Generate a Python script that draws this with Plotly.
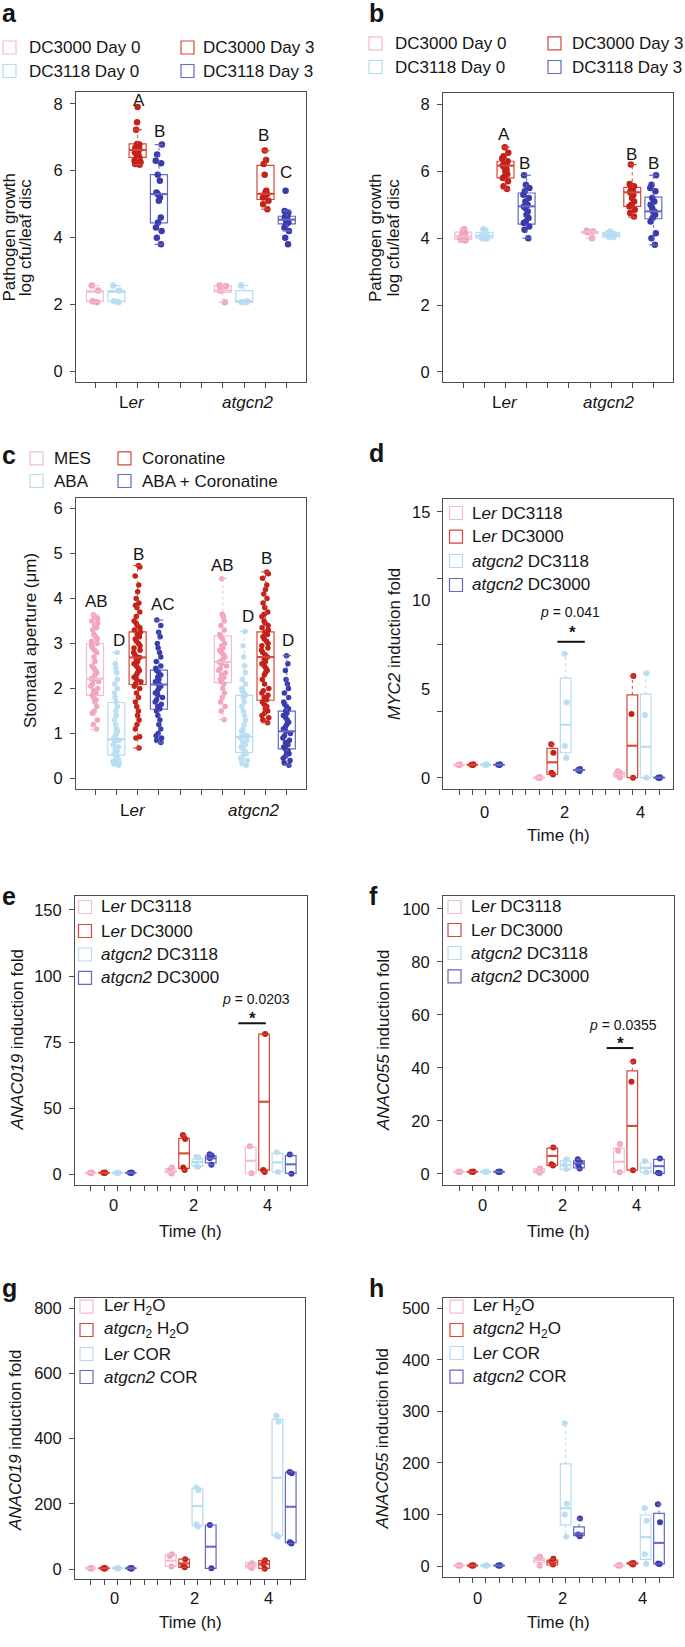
import numpy as np
import plotly.graph_objects as go

W, H = 685, 1647
FONT = "Liberation Sans, Arial, Helvetica, sans-serif"
TXT = "#151515"
AXC = "#4d4d4d"

PT = {"pink": "#F2A5BD", "lblue": "#BBDFF3", "red": "#C42219", "blue": "#3A3CAE"}
LN = {"pink": "#F4BCCD", "lblue": "#B5DBF1", "red": "#D5473C", "blue": "#6668C4"}

# ---------------- categories / labels ----------------
ab_pos = [1, 2, 3, 4, 7, 8, 9, 10]
ab_colors = ["pink", "lblue", "red", "blue", "pink", "lblue", "red", "blue"]
ab_groups = ["L<i>er</i>", "<i>atgcn2</i>"]
time_pos = [1, 2, 3, 4, 7, 8, 9, 10, 13, 14, 15, 16]
time_colors = ["pink", "red", "lblue", "blue"] * 3
time_labels = ["0", "2", "4"]

legend_ab = ["DC3000 Day 0", "DC3000 Day 3", "DC3118 Day 0", "DC3118 Day 3"]
legend_ab_colors = ["pink", "red", "lblue", "blue"]
legend_c = ["MES", "Coronatine", "ABA", "ABA + Coronatine"]
legend_def = ["L<i>er</i> DC3118", "L<i>er</i> DC3000", "<i>atgcn2</i> DC3118", "<i>atgcn2</i> DC3000"]
legend_g = ["L<i>er</i> H<sub>2</sub>O", "<i>atgcn</i><sub>2</sub> H<sub>2</sub>O", "L<i>er</i> COR", "<i>atgcn2</i> COR"]
legend_h = ["L<i>er</i> H<sub>2</sub>O", "<i>atgcn2</i> H<sub>2</sub>O", "L<i>er</i> COR", "<i>atgcn2</i> COR"]
legend_time_colors = ["pink", "red", "lblue", "blue"]

# ---------------- panel a : pathogen growth ----------------
a_points = [
    [2.57, 2.42, 2.1, 2.07],
    [2.57, 2.42, 2.1, 2.07],
    [7.9, 7.45, 7.22, 6.8, 6.78, 6.72, 6.68, 6.65, 6.62, 6.6, 6.55, 6.5, 6.45, 6.4, 6.38, 6.35, 6.3, 6.25, 6.2, 6.18],
    [6.78, 6.48, 6.3, 6.22, 5.88, 5.7, 5.35, 5.3, 5.2, 5.1, 4.6, 4.45, 4.3, 4.2, 4.0, 3.8],
    [2.57, 2.55, 2.42, 2.07],
    [2.57, 2.1, 2.07, 2.07],
    [6.6, 6.32, 6.2, 5.88, 5.4, 5.35, 5.3, 5.25, 5.2, 5.1, 5.0, 4.85],
    [5.4, 4.8, 4.75, 4.7, 4.65, 4.6, 4.55, 4.5, 4.5, 4.45, 4.4, 4.3, 4.2, 4.0, 3.8],
]
# [lower whisker, q1, median, q3, upper whisker]
a_stats = [
    [2.07, 2.1, 2.4, 2.4, 2.57],
    [2.07, 2.1, 2.4, 2.4, 2.57],
    [6.18, 6.4, 6.62, 6.8, 7.22],
    [3.8, 4.44, 5.3, 5.88, 6.78],
    [2.07, 2.37, 2.42, 2.57, 2.57],
    [2.07, 2.07, 2.1, 2.42, 2.57],
    [4.85, 5.14, 5.31, 6.16, 6.6],
    [4.2, 4.41, 4.54, 4.64, 4.8],
]
a_letters = ["A", "B", "B", "C"]

# ---------------- panel b ----------------
b_points = [
    [4.27, 4.22, 4.15, 4.08, 4.03, 3.98, 3.95, 3.93],
    [4.27, 4.22, 4.17, 4.12, 4.08, 4.05, 4.02, 4.0, 3.98],
    [6.72, 6.55, 6.45, 6.38, 6.3, 6.25, 6.2, 6.17, 6.12, 6.05, 6.0, 5.92, 5.85, 5.8, 5.7, 5.55, 5.47],
    [5.88, 5.6, 5.5, 5.4, 5.3, 5.2, 5.1, 5.0, 4.95, 4.9, 4.8, 4.7, 4.6, 4.5, 4.45, 4.35, 4.25, 4.0],
    [4.22, 4.2, 4.18, 4.0],
    [4.2, 4.15, 4.1, 4.05, 4.03],
    [6.2, 5.62, 5.55, 5.5, 5.4, 5.38, 5.35, 5.3, 5.2, 5.1, 5.0, 4.95, 4.85, 4.75, 4.65],
    [5.88, 5.6, 5.5, 5.4, 5.2, 5.1, 5.0, 4.9, 4.8, 4.78, 4.7, 4.6, 4.5, 4.15, 4.0, 3.8],
]
b_stats = [
    [3.93, 3.97, 4.05, 4.18, 4.27],
    [3.98, 4.0, 4.07, 4.17, 4.27],
    [5.47, 5.8, 6.17, 6.3, 6.72],
    [4.0, 4.42, 4.95, 5.35, 5.88],
    [4.0, 4.15, 4.18, 4.2, 4.22],
    [4.03, 4.04, 4.1, 4.17, 4.2],
    [4.63, 4.95, 5.37, 5.52, 6.2],
    [3.8, 4.58, 4.8, 5.23, 5.88],
]
b_letters = ["A", "B", "B", "B"]

# ---------------- panel c : stomatal aperture ----------------
c_points = [
    [3.64, 3.6, 3.55, 3.5, 3.45, 3.4, 3.35, 3.3, 3.2, 3.15, 3.1, 3.05, 3.0, 2.95, 2.9, 2.85, 2.8, 2.7, 2.6, 2.5,
     2.45, 2.4, 2.35, 2.3, 2.25, 2.22, 2.2, 2.15, 2.1, 2.05, 2.0, 1.95, 1.9, 1.85, 1.8, 1.75, 1.7, 1.6, 1.5, 1.45,
     1.3, 1.2, 1.1],
    [2.8, 2.55, 2.45, 2.35, 2.2, 2.1, 2.0, 1.9, 1.8, 1.7, 1.6, 1.5, 1.4, 1.3, 1.2, 1.1, 1.05, 1.0, 0.95, 0.9,
     0.87, 0.85, 0.8, 0.75, 0.7, 0.65, 0.6, 0.55, 0.52, 0.5, 0.45, 0.42, 0.4, 0.38, 0.35, 0.33, 0.3],
    [4.73, 4.7, 4.5, 4.3, 4.15, 4.0, 3.9, 3.85, 3.8, 3.7, 3.6, 3.5, 3.45, 3.4, 3.35, 3.3, 3.25, 3.2, 3.15, 3.1,
     3.05, 3.0, 2.95, 2.9, 2.85, 2.8, 2.75, 2.7, 2.69, 2.65, 2.6, 2.55, 2.5, 2.45, 2.4, 2.35, 2.3, 2.25, 2.2, 2.15,
     2.1, 2.05, 2.0, 1.9, 1.8, 1.7, 1.6, 1.5, 1.4, 1.3, 1.2, 1.1, 0.93, 0.9, 0.68],
    [3.52, 3.4, 3.25, 3.15, 3.0, 2.9, 2.8, 2.7, 2.6, 2.5, 2.45, 2.4, 2.35, 2.3, 2.25, 2.2, 2.15, 2.1, 2.09, 2.05,
     2.0, 1.95, 1.9, 1.85, 1.8, 1.75, 1.7, 1.65, 1.6, 1.55, 1.5, 1.4, 1.3, 1.2, 1.1, 1.0, 0.95, 0.9, 0.85, 0.8],
    [4.44, 3.65, 3.6, 3.5, 3.4, 3.3, 3.2, 3.15, 3.1, 3.0, 2.95, 2.9, 2.85, 2.8, 2.75, 2.7, 2.65, 2.6, 2.59, 2.55,
     2.5, 2.45, 2.4, 2.35, 2.3, 2.25, 2.2, 2.15, 2.1, 2.0, 1.9, 1.8, 1.7, 1.6, 1.5, 1.31],
    [3.27, 2.95, 2.7, 2.5, 2.35, 2.2, 2.1, 2.0, 1.95, 1.9, 1.85, 1.8, 1.7, 1.6, 1.5, 1.4, 1.3, 1.2, 1.1, 1.05,
     1.0, 0.95, 0.93, 0.9, 0.85, 0.8, 0.75, 0.7, 0.65, 0.6, 0.58, 0.55, 0.5, 0.45, 0.4, 0.35, 0.3],
    [4.59, 4.55, 4.45, 4.3, 4.2, 4.1, 4.0, 3.9, 3.8, 3.7, 3.65, 3.6, 3.5, 3.45, 3.4, 3.35, 3.3, 3.25, 3.2, 3.15,
     3.1, 3.05, 3.0, 2.95, 2.9, 2.85, 2.8, 2.75, 2.7, 2.65, 2.6, 2.55, 2.5, 2.45, 2.4, 2.35, 2.3, 2.2, 2.1, 2.0,
     1.95, 1.9, 1.85, 1.8, 1.75, 1.7, 1.65, 1.6, 1.55, 1.5, 1.45, 1.4, 1.35, 1.3, 1.24],
    [2.73, 2.55, 2.4, 2.2, 2.1, 2.0, 1.9, 1.8, 1.7, 1.65, 1.6, 1.55, 1.5, 1.45, 1.4, 1.35, 1.3, 1.25, 1.2, 1.15,
     1.1, 1.05, 1.0, 0.95, 0.9, 0.85, 0.8, 0.75, 0.7, 0.66, 0.62, 0.58, 0.55, 0.5, 0.45, 0.4, 0.35, 0.3],
]
c_stats = [
    [1.09, 1.85, 2.22, 3.0, 3.64],
    [0.3, 0.52, 0.87, 1.69, 2.8],
    [0.68, 2.09, 2.69, 3.26, 4.73],
    [0.8, 1.54, 2.09, 2.41, 3.52],
    [1.31, 2.13, 2.59, 3.17, 4.44],
    [0.3, 0.58, 0.93, 1.85, 3.27],
    [1.24, 1.74, 2.7, 3.26, 4.59],
    [0.3, 0.66, 1.05, 1.5, 2.73],
]
c_letters = ["AB", "D", "B", "AC", "AB", "D", "B", "D"]

# ---------------- panel d : MYC2 ----------------
d_points = [
    [0.73, 0.75, 0.77], [0.73, 0.75, 0.77], [0.73, 0.75, 0.77], [0.73, 0.75, 0.77],
    [0.05, 0.02, 0.0], [1.9, 1.42, 0.3, 0.2], [7.0, 4.25, 1.8, 1.13], [0.5, 0.45, 0.4],
    [0.38, 0.3, 0.17, 0.03], [5.75, 3.6, 0.02], [5.9, 3.55, 0.02], [0.04, 0.02, 0.0],
]
d_stats = [
    [0.73, 0.74, 0.75, 0.76, 0.77], [0.73, 0.74, 0.75, 0.76, 0.77],
    [0.73, 0.74, 0.75, 0.76, 0.77], [0.73, 0.74, 0.75, 0.76, 0.77],
    [0.0, 0.01, 0.02, 0.04, 0.05], [0.2, 0.21, 0.88, 1.67, 1.9],
    [1.13, 1.42, 3.0, 5.62, 7.0], [0.4, 0.43, 0.45, 0.47, 0.5],
    [0.03, 0.05, 0.2, 0.3, 0.38], [0.02, 0.02, 1.82, 4.68, 5.75],
    [0.02, 0.02, 1.76, 4.72, 5.9], [0.0, 0.01, 0.02, 0.03, 0.04],
]
d_ytick_labels = [0, 5, 10, 15]

# ---------------- panel e : ANAC019 (DC3000) ----------------
e_points = [
    [1.2, 1.0, 0.8], [1.2, 1.0, 0.8], [1.2, 1.0, 0.8], [1.2, 1.0, 0.8],
    [5.0, 3.0, 0.5], [29.5, 26.5, 5.0, 3.0], [13.0, 12.5, 6.0, 5.5], [15.0, 14.0, 12.0, 7.0],
    [21.0, 0.6], [78.0, 3.0, 1.5], [16.5, 1.5], [14.8, 0.2],
]
e_stats = [
    [0.8, 0.9, 1.0, 1.1, 1.2], [0.8, 0.9, 1.0, 1.1, 1.2],
    [0.8, 0.9, 1.0, 1.1, 1.2], [0.8, 0.9, 1.0, 1.1, 1.2],
    [0.5, 1.0, 2.0, 4.0, 5.0], [3.0, 4.3, 15.6, 27.0, 29.5],
    [5.5, 6.0, 9.1, 11.4, 13.0], [7.0, 8.5, 11.8, 13.8, 15.0],
    [0.6, 0.6, 10.1, 20.2, 21.0], [1.5, 3.0, 52.4, 78.0, 78.0],
    [1.5, 1.5, 8.8, 15.7, 16.5], [0.2, 0.5, 7.3, 14.0, 14.8],
]
# the printed axis labels of panel e are evenly spaced although their values are not
e_label_values = [0, 50, 75, 100, 150]
e_axis_values = [0, 50, 100, 150, 200]

# ---------------- panel f : ANAC055 (DC3000) ----------------
f_points = [
    [0.85, 0.8, 0.75], [0.85, 0.8, 0.75], [0.85, 0.8, 0.75], [0.85, 0.8, 0.75],
    [2.0, 1.2, 0.4], [10.0, 3.6, 3.2], [5.5, 3.5, 1.7], [5.5, 4.3, 3.5, 2.0],
    [11.3, 8.7, 0.6], [42.4, 34.8, 1.4], [4.9, 0.6], [5.8, 0.4, 0.2],
]
f_stats = [
    [0.75, 0.78, 0.8, 0.82, 0.85], [0.75, 0.78, 0.8, 0.82, 0.85],
    [0.75, 0.78, 0.8, 0.82, 0.85], [0.75, 0.78, 0.8, 0.82, 0.85],
    [0.4, 0.5, 1.15, 1.9, 2.0], [3.2, 3.2, 6.8, 9.7, 10.0],
    [1.7, 1.7, 3.3, 4.9, 5.5], [2.0, 2.3, 4.0, 4.9, 5.5],
    [0.6, 0.6, 4.6, 9.7, 11.3], [1.4, 1.4, 18.1, 38.9, 42.4],
    [0.6, 0.6, 2.3, 4.2, 4.9], [0.2, 0.2, 2.9, 5.5, 5.8],
]

# ---------------- panel g : ANAC019 (COR) ----------------
g_points = [
    [3.0, 2.0, 1.0], [3.0, 2.0, 1.0], [3.0, 2.0, 1.0], [3.0, 2.0, 1.0],
    [45.0, 40.0, 8.0], [30.0, 10.0, 5.0], [250.0, 242.0, 137.0, 130.0], [135.0, 2.0],
    [18.0, 10.0, 3.0], [27.0, 15.0, 1.0], [470.0, 452.0, 104.0, 99.0], [298.0, 294.0, 82.0, 78.0],
]
g_stats = [
    [1.0, 1.5, 2.0, 2.5, 3.0], [1.0, 1.5, 2.0, 2.5, 3.0],
    [1.0, 1.5, 2.0, 2.5, 3.0], [1.0, 1.5, 2.0, 2.5, 3.0],
    [8.0, 8.0, 25.6, 44.0, 45.0], [5.0, 5.0, 17.0, 30.0, 30.0],
    [130.0, 133.0, 193.0, 247.6, 250.0], [2.0, 2.0, 68.5, 135.0, 135.0],
    [3.0, 3.0, 10.0, 19.4, 19.4], [1.0, 2.0, 15.0, 25.6, 27.0],
    [99.0, 102.0, 280.0, 459.0, 470.0], [78.0, 81.0, 191.0, 297.0, 298.0],
]

# ---------------- panel h : ANAC055 (COR) ----------------
h_points = [
    [1.5, 1.0, 0.5], [1.5, 1.0, 0.5], [1.5, 1.0, 0.5], [1.5, 1.0, 0.5],
    [18.0, 15.0, 0.6], [14.0, 9.0, 3.0], [277.0, 121.0, 100.0, 57.0], [92.0, 61.0, 58.0],
    [2.0, 1.0, 0.5], [6.0, 5.0, 3.0], [112.0, 88.0, 23.0, 4.0], [120.0, 85.0, 5.0, 4.0],
]
h_stats = [
    [0.5, 0.8, 1.0, 1.2, 1.5], [0.5, 0.8, 1.0, 1.2, 1.5],
    [0.5, 0.8, 1.0, 1.2, 1.5], [0.5, 0.8, 1.0, 1.2, 1.5],
    [0.6, 7.0, 11.6, 16.0, 18.0], [2.0, 2.0, 7.0, 11.6, 14.0],
    [57.0, 80.0, 112.0, 198.0, 277.0], [58.0, 59.0, 63.0, 76.0, 92.0],
    [0.5, 0.7, 1.0, 1.5, 2.0], [3.0, 4.0, 5.0, 5.5, 6.0],
    [4.0, 13.0, 56.0, 99.0, 112.0], [4.0, 4.0, 45.0, 102.0, 120.0],
]


# ================= layout helpers =================
def fx(px):
    return px / W


def fy(py):
    return 1 - py / H


def e_scale(v):
    return np.interp(v, e_label_values, e_axis_values)


def ident(v):
    return np.asarray(v, dtype=float)


panels = [
    dict(pos=ab_pos, cols=ab_colors, pts=a_points, st=a_stats, dom=(76, 306, 92, 382),
         xr=[0.108, 10.9], yr=[-0.31, 8.35], nt=10, ytv=[0, 2, 4, 6, 8], ytt=None,
         bw=0.8, jit=0.45, ms=6.5, f=ident),
    dict(pos=ab_pos, cols=ab_colors, pts=b_points, st=b_stats, dom=(443, 673, 93, 382),
         xr=[0.04, 10.93], yr=[-0.30, 8.34], nt=10, ytv=[0, 2, 4, 6, 8], ytt=None,
         bw=0.8, jit=0.45, ms=6.5, f=ident),
    dict(pos=ab_pos, cols=ab_colors, pts=c_points, st=c_stats, dom=(76, 306, 498, 789),
         xr=[0.108, 10.9], yr=[-0.23, 6.23], nt=10, ytv=[0, 1, 2, 3, 4, 5, 6], ytt=None,
         bw=0.8, jit=0.5, ms=5.5, f=ident),
    dict(pos=time_pos, cols=time_colors, pts=d_points, st=d_stats, dom=(443, 673, 499, 789),
         xr=[-0.2, 17.05], yr=[-0.62, 15.71], nt=16, ytv=[0, 3.75, 7.5, 11.25, 15],
         ytt="none", bw=0.8, jit=0.25, ms=6, f=ident),
    dict(pos=time_pos, cols=time_colors, pts=e_points, st=e_stats, dom=(75, 307, 896, 1185),
         xr=[-0.18, 17.22], yr=[-8.3, 210.6], nt=16, ytv=e_axis_values,
         ytt=[str(v) for v in e_label_values], bw=0.8, jit=0.25, ms=6, f=e_scale),
    dict(pos=time_pos, cols=time_colors, pts=f_points, st=f_stats, dom=(443, 674, 896, 1185),
         xr=[-0.2, 17.13], yr=[-4.2, 104.9], nt=16, ytv=[0, 20, 40, 60, 80, 100], ytt=None,
         bw=0.8, jit=0.25, ms=6, f=ident),
    dict(pos=time_pos, cols=time_colors, pts=g_points, st=g_stats, dom=(75, 305, 1298, 1579),
         xr=[-0.18, 17.07], yr=[-30.7, 831.6], nt=16, ytv=[0, 200, 400, 600, 800], ytt=None,
         bw=0.8, jit=0.25, ms=6, f=ident),
    dict(pos=time_pos, cols=time_colors, pts=h_points, st=h_stats, dom=(443, 673, 1298, 1577),
         xr=[-0.2, 17.05], yr=[-21.3, 520], nt=16, ytv=[0, 100, 200, 300, 400, 500], ytt=None,
         bw=0.8, jit=0.25, ms=6, f=ident),
]

fig = go.Figure()
layout_axes = {}

for i, p in enumerate(panels, start=1):
    xn = "x" if i == 1 else f"x{i}"
    yn = "y" if i == 1 else f"y{i}"
    x0, x1, y0, y1 = p["dom"]
    tf = dict(size=16.5, color=TXT, family=FONT)
    layout_axes["xaxis" if i == 1 else f"xaxis{i}"] = dict(
        domain=[fx(x0), fx(x1)], range=p["xr"], tickmode="array",
        tickvals=list(range(1, p["nt"] + 1)), showticklabels=False,
        ticks="outside", ticklen=5, tickwidth=1, tickcolor=AXC,
        showline=True, linecolor=AXC, linewidth=1, mirror=True, showgrid=False,
        zeroline=False, anchor=yn, fixedrange=True)
    ya = dict(domain=[fy(y1), fy(y0)], range=p["yr"], tickmode="array", tickvals=p["ytv"],
              ticks="outside", ticklen=5, tickwidth=1, tickcolor=AXC, showline=True,
              linecolor=AXC, linewidth=1, mirror=True, showgrid=False, zeroline=False,
              anchor=xn, tickfont=tf, fixedrange=True, ticklabelstandoff=4)
    if p["ytt"] == "none":
        ya["showticklabels"] = False
    elif p["ytt"] is not None:
        ya["ticktext"] = p["ytt"]
    layout_axes["yaxis" if i == 1 else f"yaxis{i}"] = ya

    f = p["f"]
    bw = p["bw"]
    for color in ["pink", "lblue", "red", "blue"]:
        wx, wy, cx, cy = [], [], [], []
        for pos, col, st in zip(p["pos"], p["cols"], p["st"]):
            if col != color:
                continue
            lw, q1, med, q3, uw = f(st)
            wx += [pos, pos, None, pos, pos, None]
            wy += [q3, uw, None, q1, lw, None]
            c = bw / 4
            cx += [pos - c, pos + c, None, pos - c, pos + c, None]
            cy += [uw, uw, None, lw, lw, None]
        if wx:
            fig.add_trace(go.Scatter(x=wx, y=wy, mode="lines", xaxis=xn, yaxis=yn,
                                     line=dict(color=LN[color], width=1, dash="dot"),
                                     hoverinfo="skip", showlegend=False))
            fig.add_trace(go.Scatter(x=cx, y=cy, mode="lines", xaxis=xn, yaxis=yn,
                                     line=dict(color=LN[color], width=1.2),
                                     hoverinfo="skip", showlegend=False))
    for pos, col, st in zip(p["pos"], p["cols"], p["st"]):
        lw, q1, med, q3, uw = f(st)
        fig.add_trace(go.Box(x=[pos], q1=[q1], median=[med], q3=[q3], lowerfence=[q1],
                             upperfence=[q3], orientation="v", width=bw, whiskerwidth=0,
                             fillcolor="rgba(0,0,0,0)", line=dict(color=LN[col], width=1.2),
                             xaxis=xn, yaxis=yn, hoverinfo="skip", showlegend=False))
        fig.add_trace(go.Scatter(x=[pos - bw / 2, pos + bw / 2], y=[med, med], mode="lines",
                                 line=dict(color=LN[col], width=2), xaxis=xn, yaxis=yn,
                                 hoverinfo="skip", showlegend=False))
    for pos, col, pts in zip(p["pos"], p["cols"], p["pts"]):
        yy = f(pts)
        fig.add_trace(go.Box(x=[pos] * len(yy), y=yy, orientation="v", boxpoints="all",
                             jitter=p["jit"], pointpos=0, width=bw,
                             fillcolor="rgba(0,0,0,0)", line=dict(color="rgba(0,0,0,0)", width=0),
                             marker=dict(color=PT[col], size=p["ms"], line=dict(width=0)),
                             xaxis=xn, yaxis=yn, hoverinfo="skip", showlegend=False))

annotations = []
shapes = []


def ann(text, x, y, size=17, xanchor="center", yanchor="middle", angle=0, xref="paper",
        yref="paper", bold=False):
    if xref == "paper":
        x = fx(x)
    if yref == "paper":
        y = fy(y)
    if bold:
        text = f"<b>{text}</b>"
    annotations.append(dict(text=text, x=x, y=y, xref=xref, yref=yref, xanchor=xanchor,
                            yanchor=yanchor, textangle=angle, showarrow=False,
                            font=dict(size=size, color=TXT, family=FONT)))


# panel letters
for lab, x, y in [("a", 0, 13), ("b", 367, 13), ("c", 0, 455), ("d", 367, 453),
                  ("e", 0, 896), ("f", 367, 896), ("g", 0, 1288), ("h", 367, 1288)]:
    ann(lab, x, y, size=25, xanchor="left", bold=True)


# legends
def legend(items, colors, sym_x, text_x, rows_y):
    for k, (t, c) in enumerate(zip(items, colors)):
        sx, tx, yc = sym_x[k], text_x[k], rows_y[k]
        shapes.append(dict(type="rect", xref="paper", yref="paper", x0=fx(sx), x1=fx(sx + 13),
                           y0=fy(yc + 6.5), y1=fy(yc - 6.5),
                           line=dict(color=LN[c], width=1.2), fillcolor="rgba(0,0,0,0)"))
        ann(t, tx, yc, size=17, xanchor="left")


legend(legend_ab, legend_ab_colors, [3, 181, 3, 181], [27, 201, 27, 201], [47.5, 47.5, 71, 71])
legend(legend_ab, legend_ab_colors, [369, 548, 369, 548], [393, 570, 393, 570], [43.3, 43.3, 67, 67])
legend(legend_c, legend_ab_colors, [30, 118, 30, 118], [52, 140, 52, 140], [458.3, 458.3, 481, 481])
legend(legend_def, legend_time_colors, [449.5] * 4, [470] * 4, [513, 536.7, 561, 585])
legend(legend_def, legend_time_colors, [78.5] * 4, [99] * 4, [907, 931, 954.5, 977.8])
legend(legend_def, legend_time_colors, [448] * 4, [468.5] * 4, [907, 930, 953, 976.3])
legend(legend_g, legend_time_colors, [80] * 4, [101.5] * 4, [1306.7, 1330, 1354, 1377])
legend(legend_h, legend_time_colors, [450] * 4, [471] * 4, [1306.7, 1330, 1353, 1376.7])

# y-axis titles
ann("Pathogen growth", 9.5, 237, angle=-90)
ann("log cfu/leaf disc", 26.3, 237, angle=-90)
ann("Pathogen growth", 375.5, 237.5, angle=-90)
ann("log cfu/leaf disc", 393, 237.5, angle=-90)
ann("Stomatal aperture (μm)", 30, 641, angle=-90)
ann("<i>MYC2</i> induction fold", 394, 644, angle=-90)
ann("<i>ANAC019</i> induction fold", 16.5, 1040, angle=-90)
ann("<i>ANAC055</i> induction fold", 383, 1040, angle=-90)
ann("<i>ANAC019</i> induction fold", 15, 1440, angle=-90)
ann("<i>ANAC055</i> induction fold", 381.5, 1439, angle=-90)

# genotype labels under panels a-c
for cx, lab in zip([132, 248], ab_groups):
    ann(lab, cx, 403)
for cx, lab in zip([505, 609], ab_groups):
    ann(lab, cx, 403)
for cx, lab in zip([132.5, 253.5], ab_groups):
    ann(lab, cx, 810)

# time labels under panels d-h
for xs, ylab, ytitle, xt in [([484.3, 564.2, 640], 811.5, 836, 558),
                             ([113.3, 193.3, 267.3], 1205, 1231, 190),
                             ([482.7, 562.3, 636.7], 1205, 1231, 558),
                             ([115, 194.3, 268.3], 1597.5, 1622, 190),
                             ([477.3, 562.7, 642.7], 1597.5, 1622, 558)]:
    for xv, lab in zip(xs, time_labels):
        ann(lab, xv, ylab, size=16.5)
    ann("Time (h)", xt, ytitle, size=17)

# panel d y tick labels (labels and tick marks are not aligned in the original)
for v in d_ytick_labels:
    ann(str(v), 431.5, v, size=16.5, xanchor="right", yref="y4")

# significance letters
for t, x, y in zip(a_letters, [3.05, 4.03, 8.92, 9.94], [8.09, 7.16, 7.06, 5.95]):
    ann(t, x, y, xref="x", yref="y")
for t, x, y in zip(b_letters, [2.92, 3.9, 8.96, 10.0], [7.11, 6.24, 6.51, 6.24]):
    ann(t, x, y, xref="x2", yref="y2")
for t, x, y in zip(c_letters, [1.06, 2.11, 3.06, 4.17, 7.0, 8.17, 9.04, 10.06],
                   [3.93, 3.07, 4.97, 3.87, 4.74, 3.6, 4.88, 3.07]):
    ann(t, x, y, xref="x3", yref="y3")

# p-values
for (txt, xr_, yr_, tx, ty, sx, sy, bx0, bx1, by) in [
    ("<i>p</i> = 0.041", "x4", "y4", 9.36, 9.35, 9.5, 8.2, 8.38, 10.43, 7.67),
    ("<i>p</i> = 0.0203", "x5", "y5", 13.39, 132.8, 13.15, 117.5, 12.07, 14.13, 114.2),
    ("<i>p</i> = 0.0355", "x6", "y6", 13.27, 56.2, 13.13, 49.3, 12.08, 14.08, 47.5),
]:
    ann(txt, tx, ty, size=14, xref=xr_, yref=yr_)
    ann("*", sx, sy, size=17, xref=xr_, yref=yr_, bold=True)
    shapes.append(dict(type="line", xref=xr_, yref=yr_, x0=bx0, x1=bx1, y0=by, y1=by,
                       line=dict(color="#111111", width=2)))

fig.update_layout(
    width=W, height=H, margin=dict(l=0, r=0, t=0, b=0, pad=0),
    paper_bgcolor="white", plot_bgcolor="white", showlegend=False, boxmode="overlay",
    font=dict(family=FONT, size=16.5, color=TXT),
    annotations=annotations, shapes=shapes, **layout_axes)

fig.write_html("out.html", config={"displayModeBar": False, "staticPlot": True},
               post_script="document.body.style.margin='0';")
